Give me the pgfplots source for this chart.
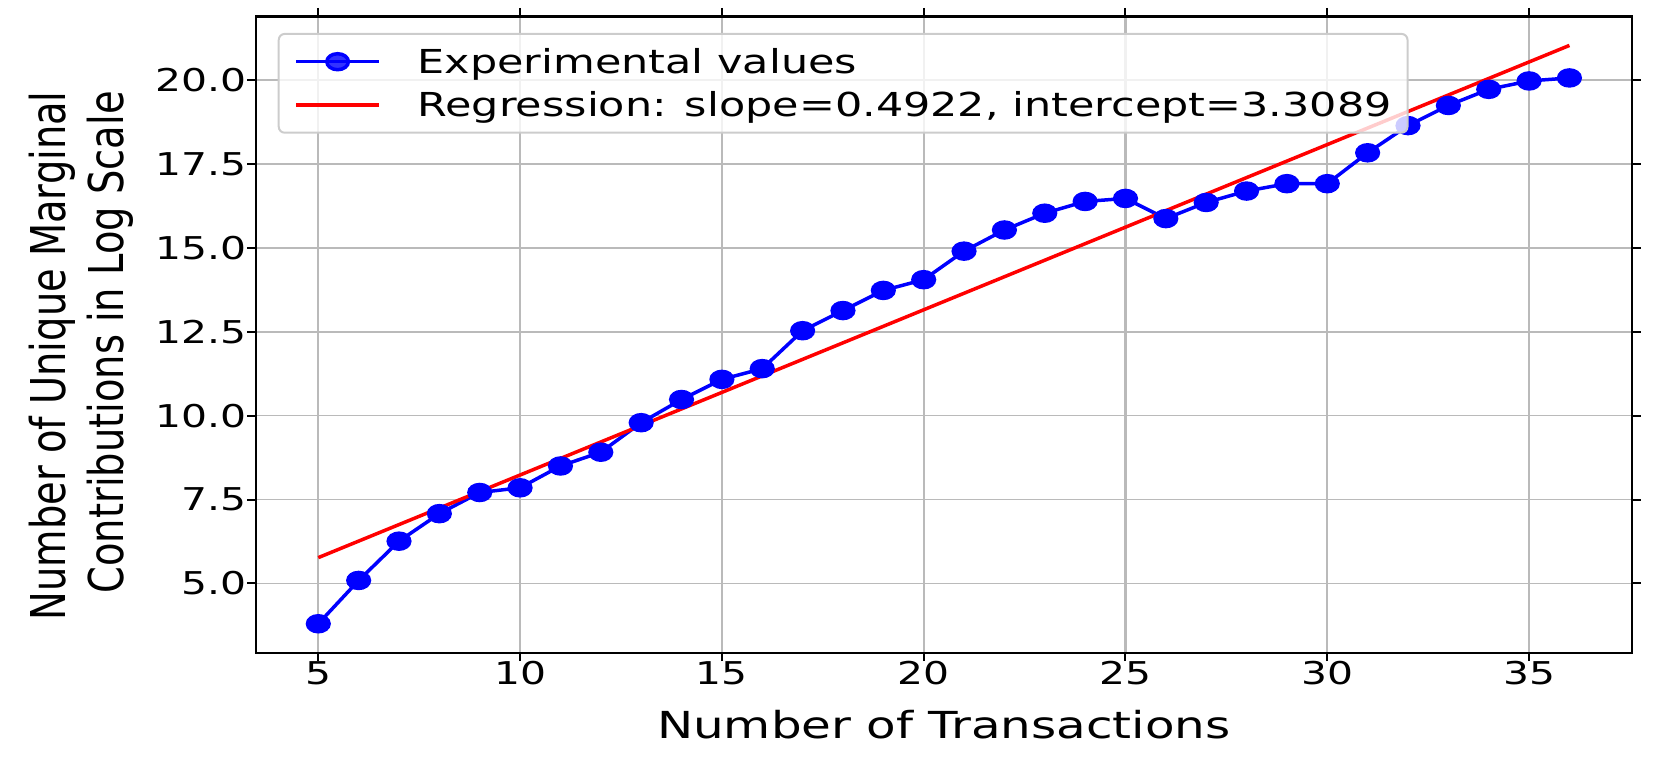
\documentclass[border=0pt]{standalone}
\usepackage{fontspec}
\setmainfont{DejaVu Sans}[FakeStretch=1.3]
\newfontfamily\ylabfont{DejaVu Sans}[FakeStretch=0.8]
\usepackage{pgfplots}
\pgfplotsset{compat=1.18}
\begin{document}
\begin{tikzpicture}
\begin{axis}[
  name=ax,
  scale only axis, width=688pt, height=318pt,
  xmin=3.45, xmax=37.55, ymin=2.94, ymax=21.89,
  xtick={5,10,15,20,25,30,35},
  ytick={5,7.5,10,12.5,15,17.5,20},
  /pgf/number format/assume math mode=true,
  tick label style={font=\fontsize{15.7}{18}\selectfont, inner sep=0pt},
  xticklabel style={anchor=north},
  yticklabel style={anchor=east, /pgf/number format/.cd, fixed, fixed zerofill, precision=1},
  tick align=outside,
  major tick length=4.3pt,
  tick style={black, line width=1pt},
  axis line style={line width=1.1pt},
  grid=major,
  major x grid style={color=black!27, line width=1.1pt},
  major y grid style={color=black!27, line width=0.85pt},
  xlabel={Number of Transactions},
  xlabel style={at={(axis description cs:0.5,0)}, anchor=base, yshift=-42.8pt, inner sep=0pt, font=\fontsize{18.6}{22}\selectfont},
  ylabel={\begin{tabular}{@{}r@{}}Number of Unique Marginal\\Contributions in Log Scale\end{tabular}},
  ylabel style={at={(axis description cs:-0.1258,0.8829)}, anchor=east, inner sep=0pt, font=\ylabfont\fontsize{24}{29}\selectfont},
  legend style={at={(0,1)}, anchor=north west, xshift=11pt, yshift=-8.2pt,
    draw=black!20, line width=1pt, rounded corners=3pt, fill=white, fill opacity=0.8, text opacity=1,
    inner xsep=7.9pt, inner ysep=5.9pt, row sep=5.6pt,
    font=\fontsize{16.5}{20}\selectfont,
    nodes={inner sep=0pt, text height=14pt, text depth=2pt, anchor=west},
    /tikz/every odd column/.append style={column sep=18.5pt}},
  legend cell align=left,
  legend image code/.code={\draw[mark repeat=2,mark phase=2] plot coordinates {(0pt,0pt) (20.65pt,0pt) (41.3pt,0pt)};},
]
\addplot[blue, line width=1.75pt, mark=*, mark size=4.0pt, mark options={solid, draw=none, fill=blue, xscale=1.35}] table {
x y
5 3.80
6 5.09
7 6.26
8 7.08
9 7.71
10 7.85
11 8.50
12 8.91
13 9.79
14 10.48
15 11.08
16 11.40
17 12.53
18 13.13
19 13.73
20 14.05
21 14.90
22 15.53
23 16.03
24 16.38
25 16.47
26 15.87
27 16.35
28 16.69
29 16.91
30 16.91
31 17.83
32 18.64
33 19.24
34 19.72
35 19.97
36 20.06
};
\addlegendentry{Experimental values}
\addplot[red, line width=1.75pt, mark=none] table {
x y
5 5.7699
36 21.0281
};
\addlegendentry{Regression: slope=0.4922, intercept=3.3089}
\end{axis}
\pgfresetboundingbox
\path ([shift={(-127.85pt,-54.65pt)}]ax.south west) rectangle ([shift={(15pt,8.25pt)}]ax.north east);
\end{tikzpicture}
\end{document}
